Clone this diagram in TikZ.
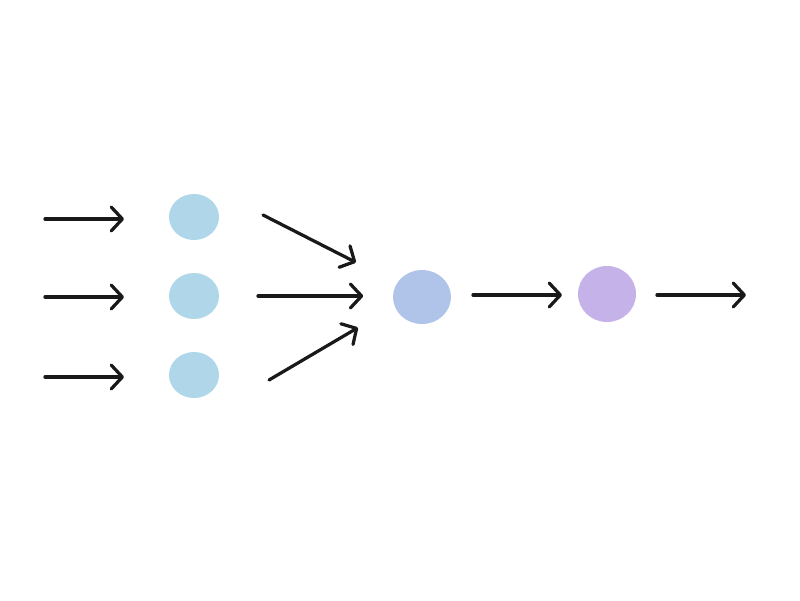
\documentclass[tikz,border=0pt]{standalone}
\usetikzlibrary{arrows.meta,shapes.geometric}
\definecolor{inblue}{RGB}{176,214,234}
\definecolor{hidblue}{RGB}{176,196,234}
\definecolor{outpurple}{RGB}{196,178,232}
\begin{document}
\begin{tikzpicture}[
    unit/.style={ellipse, draw=none, inner sep=0pt},
    flow/.style={black!90, line width=2.3pt, line cap=round, line join=round,
      -{Straight Barb[length=2.8mm, width=6mm, round]}}
  ]
  \useasboundingbox[fill=white] (0,0) rectangle (20,-15);
  \node[unit, fill=inblue, minimum width=1.25cm, minimum height=1.15cm] (I1) at (4.85,-5.425) {};
  \node[unit, fill=inblue, minimum width=1.25cm, minimum height=1.15cm] (I2) at (4.85,-7.4) {};
  \node[unit, fill=inblue, minimum width=1.25cm, minimum height=1.15cm] (I3) at (4.85,-9.375) {};
  \node[unit, fill=hidblue, minimum width=1.45cm, minimum height=1.35cm] (H) at (10.55,-7.425) {};
  \node[unit, fill=outpurple, minimum width=1.45cm, minimum height=1.4cm] (O) at (15.175,-7.35) {};
  % arrow ends
  \coordinate (x1) at (1.125,-5.475);
  \coordinate (x1e) at (3.1,-5.475);
  \coordinate (x2) at (1.125,-7.425);
  \coordinate (x2e) at (3.1,-7.425);
  \coordinate (x3) at (1.125,-9.425);
  \coordinate (x3e) at (3.1,-9.425);
  \coordinate (a1) at (6.575,-5.375);
  \coordinate (a1e) at (8.9,-6.56);
  \coordinate (a2) at (6.45,-7.4);
  \coordinate (a2e) at (9.08,-7.4);
  \coordinate (a3) at (6.725,-9.5);
  \coordinate (a3e) at (8.95,-8.19);
  \coordinate (b) at (11.825,-7.375);
  \coordinate (be) at (14.05,-7.375);
  \coordinate (y) at (16.425,-7.375);
  \coordinate (ye) at (18.65,-7.375);
  \draw[flow] (x1) -- (x1e);
  \draw[flow] (x2) -- (x2e);
  \draw[flow] (x3) -- (x3e);
  \draw[flow] (a1) -- (a1e);
  \draw[flow] (a2) -- (a2e);
  \draw[flow] (a3) -- (a3e);
  \draw[flow] (b) -- (be);
  \draw[flow] (y) -- (ye);
\end{tikzpicture}
\end{document}
